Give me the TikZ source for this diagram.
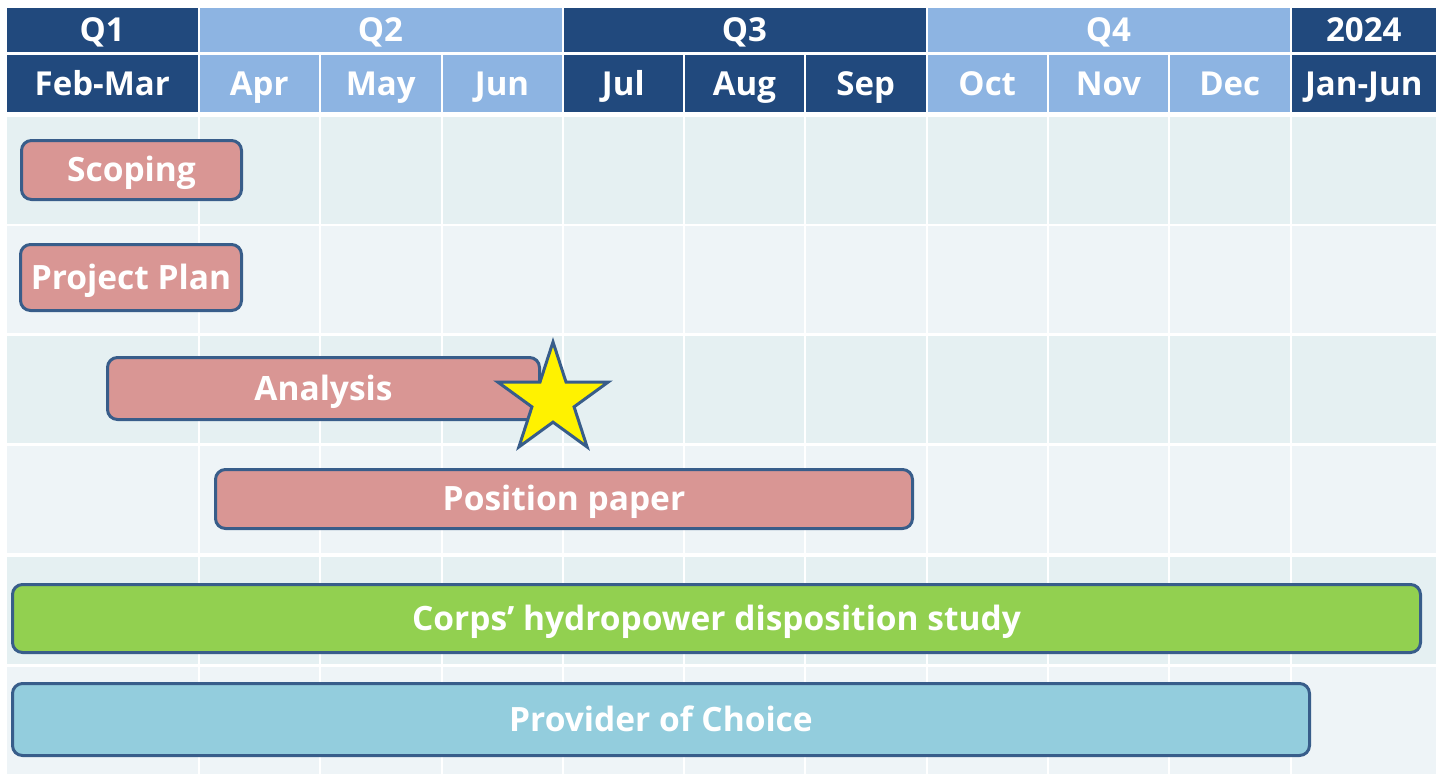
\documentclass[tikz,border=0pt]{standalone}
\usepackage{fontspec}
\setmainfont{Open Sans}
\usetikzlibrary{calc}
\usetikzlibrary{shapes.geometric}

\definecolor{qdark}{RGB}{33,73,125}
\definecolor{qlight}{RGB}{141,180,226}
\definecolor{rowa}{RGB}{229,240,242}
\definecolor{rowb}{RGB}{238,244,247}
\definecolor{barline}{RGB}{56,93,138}
\definecolor{pinkbar}{RGB}{217,150,148}
\definecolor{greenbar}{RGB}{146,208,80}
\definecolor{bluebar}{RGB}{147,205,221}

\tikzset{
    hdtext/.style={text=white, inner sep=0, text height=23.6pt, text depth=0pt,
        font=\bfseries\fontsize{33}{36}\selectfont},
    taskbar/.style={draw=barline, line width=3pt, rounded corners=10pt, text=white, inner sep=0,
        text height=23.6pt, text depth=0pt, font=\bfseries\fontsize{33.5}{36}\selectfont},
}

\begin{document}
\begin{tikzpicture}[x=1pt,y=-1pt]
\useasboundingbox (0,0) rectangle (1442,774);
\fill[white] (0,0) rectangle (1442,774);

\newcommand{\hcell}[7]{
    \fill[#6] (#2,#4) rectangle (#3,#5);
    \node[hdtext] (#1) at ($(#2,#4)!0.5!(#3,#5)$) {#7};
}

\newcommand{\bodyrow}[2]{
    \fill[#2] (7,#1) rectangle (1436,#1+107);
}

% quarters
\hcell{qone}{7}{197.5}{8}{52}{qdark}{Q1}
\hcell{qtwo}{199.5}{561.5}{8}{52}{qlight}{Q2}
\hcell{qthree}{563.5}{925.5}{8}{52}{qdark}{Q3}
\hcell{qfour}{927.5}{1289.5}{8}{52}{qlight}{Q4}
\hcell{qnext}{1291.5}{1436}{8}{52}{qdark}{2024}

% months
\hcell{febmar}{7}{197.5}{55}{112}{qdark}{Feb-Mar}
\hcell{apr}{199.5}{319}{55}{112}{qlight}{Apr}
\hcell{may}{321}{440.5}{55}{112}{qlight}{May}
\hcell{jun}{442.5}{561.5}{55}{112}{qlight}{Jun}
\hcell{jul}{563.5}{683}{55}{112}{qdark}{Jul}
\hcell{aug}{685}{804}{55}{112}{qdark}{Aug}
\hcell{sep}{806}{925.5}{55}{112}{qdark}{Sep}
\hcell{oct}{927.5}{1047}{55}{112}{qlight}{Oct}
\hcell{nov}{1049}{1168}{55}{112}{qlight}{Nov}
\hcell{dec}{1170}{1289.5}{55}{112}{qlight}{Dec}
\hcell{janjun}{1291.5}{1436}{55}{112}{qdark}{Jan-Jun}

% rows
\bodyrow{117}{rowa}
\bodyrow{226}{rowb}
\bodyrow{336}{rowa}
\bodyrow{446}{rowb}
\bodyrow{557}{rowa}
\bodyrow{667}{rowb}
\foreach \x in {198.5,320,441.5,562.5,684,805,926.5,1048,1169,1290.5}
    \draw[white, line width=2pt] (\x,117) -- (\x,774);

% tasks
\node[taskbar, fill=pinkbar, minimum width=220, minimum height=59] (scoping) at (131.5,170) {Scoping};
\node[taskbar, fill=pinkbar, minimum width=221, minimum height=66] (plan) at (131,277.5) {Project Plan};
\node[taskbar, fill=pinkbar, minimum width=432, minimum height=62] (analysis) at (323.5,388.5) {Analysis};
\node[star, star points=5, star point ratio=2.618, fill=yellow, draw=barline, line width=3pt,
    minimum size=116, inner sep=0] (milestone) at (553,400) {};
\node[taskbar, fill=pinkbar, minimum width=697, minimum height=59] (paper) at (564,499) {Position paper};
\node[taskbar, fill=greenbar, minimum width=1408, minimum height=68] (corps) at (716.5,618.5) {Corps’ hydropower disposition study};
\node[taskbar, fill=bluebar, minimum width=1297, minimum height=72] (provider) at (661,719.5) {Provider of Choice};
\end{tikzpicture}
\end{document}
